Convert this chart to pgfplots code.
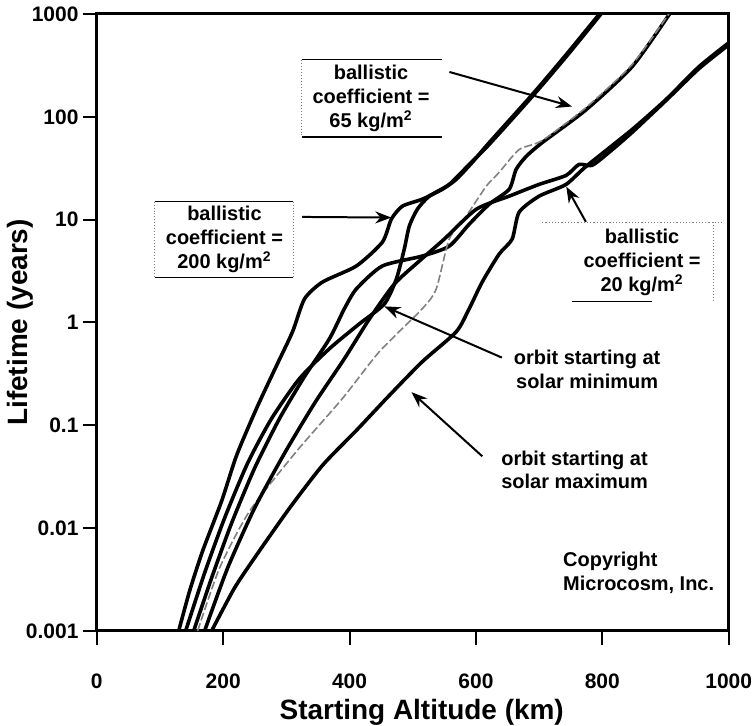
\documentclass[border=0pt]{standalone}
\usepackage{pgfplots}
\pgfplotsset{compat=1.18}
\usepackage{fontspec}
\setmainfont{Liberation Sans}
\usetikzlibrary{arrows.meta}
\newcommand{\annot}{\fontsize{10}{12}\selectfont\bfseries}
\begin{document}
\begin{tikzpicture}
\begin{axis}[
  scale only axis, width=316.5pt, height=309pt,
  xmin=0, xmax=1000, ymin=0.001, ymax=1000, ymode=log,
  xtick={0,200,400,600,800,1000},
  xticklabels={0,200,400,600,800,1000},
  ytick={0.001,0.01,0.1,1,10,100,1000},
  yticklabels={0.001,0.01,0.1,1,10,100,1000},
  minor tick num=0, yminorticks=false, xminorticks=false,
  tick align=outside, xtick pos=bottom, ytick pos=left,
  major tick length=7pt,
  tick style={line width=1pt, black},
  axis line style={line width=1.5pt},
  ticklabel style={font=\fontsize{10.5}{12}\selectfont\bfseries, inner sep=0pt},
  xticklabel style={yshift=-14.5pt},
  yticklabel style={xshift=-2pt},
  /pgf/number format/assume math mode=true,
  every axis x label/.style={at={(axis description cs:0.5,0)}, xshift=4.5pt, yshift=-41pt, anchor=center, inner sep=0pt},
  every axis y label/.style={at={(axis description cs:0,0.5)}, xshift=-38.5pt, rotate=90, anchor=center, inner sep=0pt},
  label style={font=\fontsize{14}{16}\selectfont\bfseries},
  xlabel={Starting Altitude (km)}, ylabel={Lifetime (years)},
  curve/.style={line width=1.8pt, black, no marks, smooth, tension=0.4},
]
% BC 200, solar min
\addplot[curve] coordinates {(129.6,0.001) (146.9,0.00245) (167.5,0.0060) (197.5,0.0183) (221.2,0.0509) (252.8,0.146) (284.4,0.380) (309.7,0.811) (328.6,1.69) (357.1,2.47) (410.8,3.54) (451.9,6.04) (466.1,10.1) (483.5,13.5) (515.1,15.8) (546.7,19.7) (568.8,24.6) (594.1,36) (620.9,56) (688.9,164) (742.6,401) (797.9,1045)};
% BC 200, solar max
\addplot[curve] coordinates {(140.6,0.001) (170.6,0.00366) (202.2,0.0125) (238.6,0.0427) (276.5,0.116) (320.7,0.284) (368.1,0.555) (415.5,0.969) (455.0,1.51) (474.0,2.64) (486.6,5.17) (494.5,8.63) (507.2,12.6) (526.1,16.9) (557.7,22) (589.3,34.4) (620.9,53.8) (688.9,157) (742.6,383) (797.9,1000)};
% BC 65, solar min
\addplot[curve] coordinates {(153.3,0.001) (181.7,0.00328) (213.3,0.01117) (249.6,0.0381) (289.1,0.116) (328.6,0.297) (368.1,0.693) (391.8,1.36) (410.8,2.12) (451.9,3.54) (515.1,4.42) (557.7,5.52) (589.3,9.02) (620.9,14.1) (652.5,19.7) (663.6,30.8) (679.4,41.1) (704.7,56) (774.2,117) (846.9,306) (905.3,977) (906.9,1045)};
% BC 65, solar max (grey)
\addplot[curve, line width=0.8pt, gray, dash pattern=on 4pt off 1.5pt] coordinates {(159.6,0.001) (194.3,0.00409) (241.7,0.0146) (316.0,0.0557) (388.7,0.182) (447.1,0.519) (515.1,1.36) (537.2,2.12) (557.7,6.46) (584.6,10.8) (616.2,21.1) (636.7,28.8) (668.3,48) (704.7,58.7) (774.2,123) (846.9,321) (905.3,1000)};
% BC 20, solar max
\addplot[curve] coordinates {(181.7,0.001) (218.0,0.00262) (252.8,0.00547) (304.9,0.0156) (357.1,0.0407) (410.8,0.0891) (462.9,0.195) (515.1,0.415) (568.8,0.811) (589.3,1.36) (609.9,2.47) (636.7,4.62) (657.3,6.46) (668.3,11.8) (699.9,16.9) (742.6,22) (774.2,32.9) (846.9,75) (900.6,147) (952.7,306) (1000,524)};
% BC 20, solar min
\addplot[curve] coordinates {(170.6,0.001) (207.0,0.00409) (249.6,0.0156) (297.0,0.0533) (344.4,0.163) (391.8,0.444) (431.3,1.08) (470.8,2.36) (510.3,3.95) (549.8,6.46) (600.4,12.6) (652.5,16.9) (699.9,22) (742.6,26.9) (763.1,34.4) (783.7,33.7) (810.5,45) (846.9,70.3) (900.6,143.6) (952.7,293) (1000,501)};

% annotation boxes
\draw[line width=0.8pt] (rel axis cs:0.324,0.926) -- (rel axis cs:0.547,0.926);
\draw[line width=0.8pt] (rel axis cs:0.324,0.801) -- (rel axis cs:0.547,0.801);
\draw[densely dotted, line width=0.5pt, gray] (rel axis cs:0.324,0.926) -- (rel axis cs:0.324,0.801);
\node[align=center, font=\annot] at (rel axis cs:0.434,0.863) {ballistic\\coefficient =\\65 kg/m\textsuperscript{2}};

\draw[line width=0.8pt] (rel axis cs:0.0916,0.696) -- (rel axis cs:0.311,0.696);
\draw[line width=0.8pt] (rel axis cs:0.0916,0.573) -- (rel axis cs:0.311,0.573);
\draw[densely dotted, line width=0.5pt, gray] (rel axis cs:0.0916,0.696) -- (rel axis cs:0.0916,0.573);
\draw[densely dotted, line width=0.5pt, gray] (rel axis cs:0.311,0.696) -- (rel axis cs:0.311,0.573);
\node[align=center, font=\annot] at (rel axis cs:0.202,0.634) {ballistic\\coefficient =\\200 kg/m\textsuperscript{2}};

\draw[densely dotted, line width=0.6pt, gray] (rel axis cs:0.705,0.662) -- (rel axis cs:0.992,0.662);
\draw[line width=0.8pt] (rel axis cs:0.752,0.534) -- (rel axis cs:0.878,0.534);
\draw[densely dotted, line width=0.5pt, gray] (rel axis cs:0.976,0.662) -- (rel axis cs:0.976,0.534);
\node[align=center, font=\annot] at (rel axis cs:0.863,0.597) {ballistic\\coefficient =\\20 kg/m\textsuperscript{2}};

% arrows
\draw[line width=1pt, -{Stealth[length=8pt,width=6pt]}] (rel axis cs:0.558,0.906) -- (rel axis cs:0.752,0.850);
\draw[line width=1pt, -{Stealth[length=8pt,width=6pt]}] (rel axis cs:0.325,0.671) -- (rel axis cs:0.466,0.670);
\draw[line width=1pt, -{Stealth[length=8pt,width=6pt]}] (rel axis cs:0.774,0.663) -- (rel axis cs:0.743,0.720);
\draw[line width=1pt, -{Stealth[length=8pt,width=6pt]}] (rel axis cs:0.641,0.443) -- (rel axis cs:0.455,0.526);
\draw[line width=1pt, -{Stealth[length=8pt,width=6pt]}] (rel axis cs:0.610,0.283) -- (rel axis cs:0.498,0.387);

\node[align=center, font=\annot] at (rel axis cs:0.776,0.424) {orbit starting at\\solar minimum};
\node[align=left, anchor=west, font=\annot] at (rel axis cs:0.629,0.261) {orbit starting at\\solar maximum};
\node[align=left, anchor=west, font=\annot] at (rel axis cs:0.727,0.094) {Copyright\\Microcosm, Inc.};
\end{axis}
\path (-48.5pt,-47.5pt) rectangle (327.5pt,316pt);
\end{tikzpicture}
\end{document}
